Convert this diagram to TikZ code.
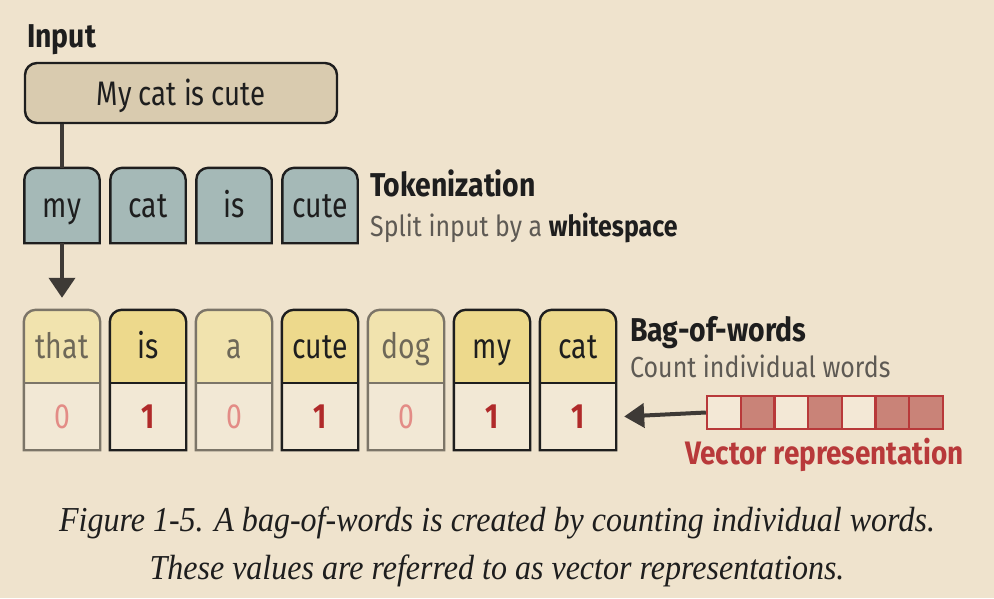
\documentclass[tikz,border=0pt]{standalone}
\usepackage{fontspec}
\setmainfont{Fira Sans}[FakeStretch=0.86]
\newfontfamily\boxfont{Fira Sans}[FakeStretch=0.81]
\newfontfamily\capfont{Liberation Serif}[FakeStretch=0.915]
\usetikzlibrary{arrows.meta,calc}
\pgfdeclarelayer{bgl}
\pgfdeclarelayer{background}
\pgfsetlayers{bgl,background,main}
\definecolor{bgc}{HTML}{EFE3CD}
\definecolor{inpfill}{HTML}{D9CBAF}
\definecolor{tokfill}{HTML}{A5B9B7}
\definecolor{wtop0}{HTML}{F1E3AE}
\definecolor{wtop1}{HTML}{EDD98C}
\definecolor{numfill}{HTML}{F2E8D5}
\definecolor{line0}{HTML}{7C7568}
\definecolor{line1}{HTML}{1E1E1E}
\definecolor{wtext0}{HTML}{6E6858}
\definecolor{wtext1}{HTML}{1E1E1E}
\definecolor{num0}{HTML}{E38C86}
\definecolor{num1}{HTML}{B02A2A}
\definecolor{vred}{HTML}{B8393A}
\definecolor{vdark}{HTML}{C98378}
\definecolor{vlight}{HTML}{F3E8D6}
\definecolor{arrc}{HTML}{3E3A36}
\definecolor{subgrey}{HTML}{5E5A54}
\tikzset{
  boxtext/.style={inner sep=0pt, text height=23pt, text depth=0pt, font=\boxfont\fontsize{35}{37}\selectfont},
  inpbox/.style={draw=line1, fill=inpfill, line width=2.4pt, rounded corners=12pt, minimum width=312pt, minimum height=60pt, inner sep=0pt, text height=24pt, text depth=0pt, font=\boxfont\fontsize{34}{36}\selectfont, text=line1},
  tok/.style={boxtext, minimum width=75pt, minimum height=75pt, text=line1},
  word0/.style={boxtext, minimum width=76pt, minimum height=73pt, text=wtext0},
  word1/.style={boxtext, minimum width=76pt, minimum height=73pt, text=wtext1},
  numA/.style={boxtext, minimum width=76pt, minimum height=67pt},
  num0/.style={numA, text=num0},
  num1/.style={numA, text=num1, font=\boxfont\fontsize{35}{37}\selectfont\bfseries},
  outline/.style={line width=2.4pt},
  conn/.style={draw=arrc, line width=4pt},
  heading/.style={anchor=base west, inner sep=0pt, font=\fontsize{33}{35}\selectfont\bfseries, text=line1},
  subhead/.style={anchor=base west, inner sep=0pt, font=\fontsize{29}{31}\selectfont, text=subgrey},
  vcell/.style={draw=vred, line width=2.4pt, minimum width=33.7pt, minimum height=33pt, inner sep=0pt},
  caption/.style={inner sep=0pt, anchor=base, font=\capfont\itshape\fontsize{35}{37}\selectfont, text=line1}
}
\begin{document}
\begin{tikzpicture}[x=1pt,y=-1pt]
\begin{pgfonlayer}{bgl}
\fill[bgc] (0,0) rectangle (994,598);
\end{pgfonlayer}
\useasboundingbox (0,0) rectangle (994,598);

% Input
\node[heading] (inlabel) at (27,47) {Input};
\node[inpbox] (inp) at (181,93) {My cat is cute};

% Tokens
\foreach \w [count=\i] in {my,cat,is,cute} {
  \node[tok] (t\i) at ({24+86*(\i-1)+38},205.5) {\w};
  \begin{pgfonlayer}{background}
    \draw[outline, draw=line1, fill=tokfill] (t\i.south west) [rounded corners=12pt] -- (t\i.north west) -- (t\i.north east) [sharp corners] -- (t\i.south east) -- cycle;
  \end{pgfonlayer}
}
\node[heading] (tokh) at (370,196) {Tokenization};
\node[subhead] (toks) at (370,236) {Split input by a \textcolor{line1}{\bfseries whitespace}};

% Bag of words
\foreach \w/\v [count=\i from 0] in {that/0,is/1,a/0,cute/1,dog/0,my/1,cat/1} {
  \node[word\v] (w\i) at ({62+86*\i},346.5) {\w};
  \node[num\v] (n\i) at ({62+86*\i},416.5) {\v};
  \begin{pgfonlayer}{background}
    \fill[numfill] (n\i.north west) rectangle (n\i.south east);
    \fill[wtop\v] (w\i.south west) [rounded corners=12pt] -- (w\i.north west) -- (w\i.north east) [sharp corners] -- (w\i.south east) -- cycle;
    \draw[outline, draw=line\v] (n\i.south west) [rounded corners=12pt] -- (w\i.north west) -- (w\i.north east) [sharp corners] -- (n\i.south east) -- cycle;
    \draw[outline, draw=line\v] (w\i.south west) -- (w\i.south east);
  \end{pgfonlayer}
}
\node[heading] (bagh) at (630,341) {Bag-of-words};
\node[subhead] (bags) at (630,377) {Count individual words};

% Vector
\foreach \f [count=\i] in {vlight,vdark,vlight,vdark,vlight,vdark,vdark} {
  \node[vcell, fill=\f] (v\i) at ({707+33.7*(\i-0.5)},412.5) {};
}
\node[anchor=base, inner sep=0pt, font=\fontsize{32.5}{34}\selectfont\bfseries, text=vred] (vlab) at (824.5,464) {Vector representation};

% Connectors
\draw[conn] (inp.south -| t1.north) -- (t1.north);
\draw[conn, -{Triangle[length=20pt,width=26pt]}] (t1.south) -- ($(t1.south |- w0.north)+(0,-12)$);
\draw[conn, -{Triangle[length=20pt,width=24pt]}] (v1.west) -- ($(n6.east)+(8,0)$);

% Caption
\node[caption] (cap1) at (497,531) {Figure 1-5. A bag-of-words is created by counting individual words.};
\node[caption] (cap2) at (497,579) {These values are referred to as vector representations.};
\end{tikzpicture}
\end{document}
